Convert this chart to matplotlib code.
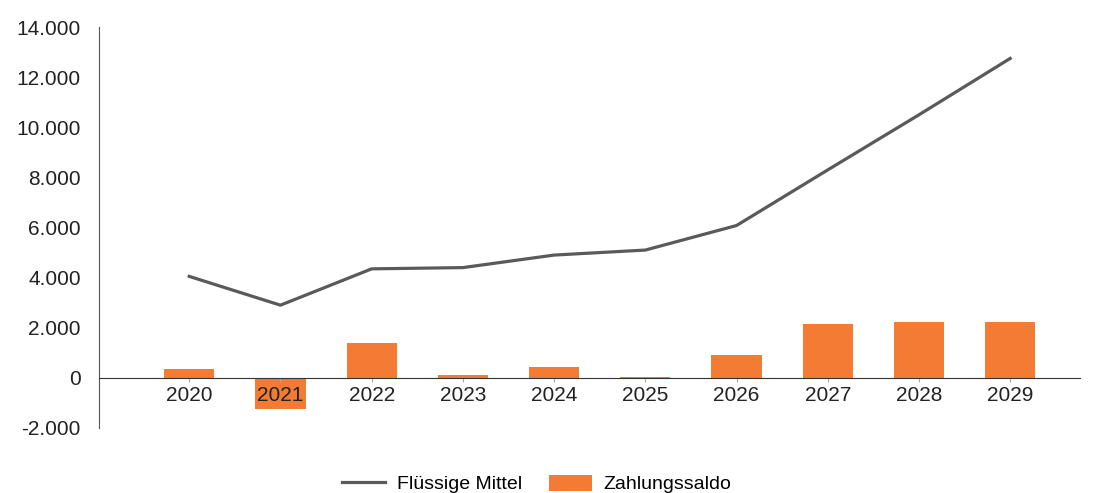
import numpy as np
import matplotlib.pyplot as plt
from matplotlib.ticker import FuncFormatter

years = ['2020', '2021', '2022', '2023', '2024', '2025', '2026', '2027', '2028', '2029']
fluessige_mittel = [4050, 2900, 4350, 4400, 4900, 5100, 6080, 8300, 10500, 12750]
zahlungssaldo = [350, -1250, 1400, 100, 450, 30, 920, 2150, 2230, 2230]

plt.rcParams['font.family'] = ['Liberation Sans', 'DejaVu Sans']

fig = plt.figure(figsize=(10.93, 4.93), dpi=100)
ax = fig.add_axes([0.0905, 0.132, 0.898, 0.813])

x = np.arange(len(years))
ax.bar(x, zahlungssaldo, width=0.55, color='#F47B33', label='Zahlungssaldo', zorder=1)
ax.plot(x, fluessige_mittel, color='#5a5a5a', linewidth=2.3, label='Flüssige Mittel', zorder=3)

ax.set_xlim(-0.99, 9.77)
ax.set_ylim(-2000, 14000)
ax.set_yticks(np.arange(-2000, 14001, 2000))
ax.yaxis.set_major_formatter(FuncFormatter(lambda v, p: f'{int(v):,}'.replace(',', '.')))
ax.set_xticks(x)
ax.set_xticklabels(years)

for s in ['top', 'right']:
    ax.spines[s].set_visible(False)
ax.spines['bottom'].set_position(('data', 0))
ax.spines['bottom'].set_color('#333333')
ax.spines['left'].set_color('#555555')
ax.tick_params(axis='y', length=0, labelsize=15, pad=13, colors='#222222')
ax.tick_params(axis='x', length=3, labelsize=15, pad=3, colors='#aaaaaa', labelcolor='#222222')

fig.legend(loc='center', bbox_to_anchor=(0.491, 9 / 493), ncol=2, frameon=False,
           fontsize=14, handlelength=2.2, handleheight=0.9, handletextpad=0.6,
           columnspacing=1.4, borderpad=0)

fig.savefig('out.png', dpi=100)
